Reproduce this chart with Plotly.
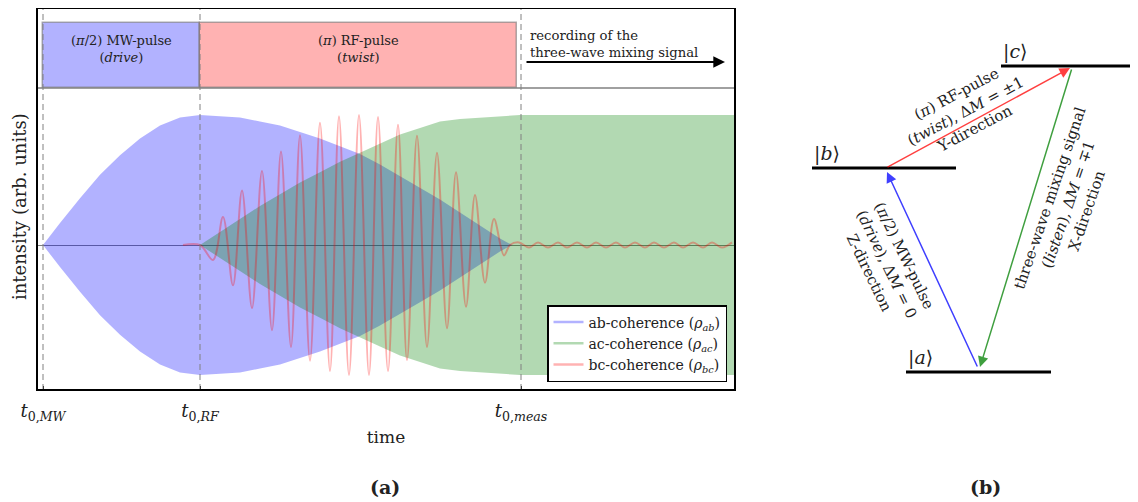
import plotly.graph_objects as go

# ---- data (time in arb. units, t0,MW = 0; intensity normalised to the max envelope) ----
t_marks = [0, 157, 478]
t_mark_labels = ["<i>t</i><sub>0,<i>MW</i></sub>", "<i>t</i><sub>0,<i>RF</i></sub>",
                 "<i>t</i><sub>0,<i>meas</i></sub>"]

pulse_labels = ["(<i>π</i>/2) MW-pulse<br>(<i>drive</i>)", "(<i>π</i>) RF-pulse<br>(<i>twist</i>)"]
pulse_start = [0, 157]
pulse_end = [157, 474]
pulse_colors = ["rgba(0,0,255,0.3)", "rgba(255,0,0,0.3)"]

# envelope of the (fast oscillating) ab-coherence
t_ab = [0, 17, 37, 57, 77, 97, 117, 137, 157, 177, 197, 217, 237, 257, 277, 297, 317,
        337, 357, 377, 397, 417, 437, 457, 469, 692]
env_ab = [0, 0.17, 0.36, 0.54, 0.69, 0.82, 0.92, 0.98, 1.0, 0.99, 0.98, 0.95, 0.92, 0.87,
          0.82, 0.76, 0.70, 0.62, 0.53, 0.44, 0.35, 0.25, 0.15, 0.05, 0, 0]

# envelope of the ac-coherence
t_ac = [0, 157, 177, 197, 217, 237, 257, 277, 297, 317, 337, 357, 377, 397, 417, 437, 457,
        477, 692]
env_ac = [0, 0, 0.10, 0.20, 0.30, 0.39, 0.48, 0.56, 0.64, 0.71, 0.78, 0.85, 0.90, 0.95,
          0.97, 0.98, 0.99, 1.0, 1.0]

# extrema of the bc-coherence
t_bc = [140, 157, 170, 180, 190, 199, 209, 219, 229, 238, 248, 257, 267, 277, 287, 296, 306,
        316, 326, 335, 345, 355, 364, 374, 384, 394, 404, 413, 423, 432, 442, 451, 461, 467,
        476, 486, 495, 505, 515, 524, 534, 544, 553, 563, 573, 582, 592, 602, 611, 621, 631,
        640, 650, 660, 669, 679, 689]
rho_bc = [0, 0, -0.115, 0.215, -0.31, 0.42, -0.485, 0.57, -0.655, 0.72, -0.785, 0.845, -0.89,
          0.94, -0.97, 0.99, -1.0, 1.0, -1.0, 0.985, -0.97, 0.925, -0.885, 0.84, -0.785, 0.71,
          -0.64, 0.56, -0.475, 0.385, -0.29, 0.2, -0.08, 0,
          0.02, -0.02, 0.02, -0.02, 0.02, -0.02, 0.02, -0.02, 0.02, -0.02, 0.02, -0.02, 0.02,
          -0.02, 0.02, -0.02, 0.02, -0.02, 0.02, -0.02, 0.02, -0.02, 0.02]

# level scheme (panel b), arbitrary drawing units
level_names = ["|<i>a</i>⟩", "|<i>b</i>⟩", "|<i>c</i>⟩"]
level_E = [130, 334, 436]
level_x0 = [126, 32, 221]
level_x1 = [271, 176, 356]

arrow_tail = [(198, 134), (106, 334), (292, 434)]
arrow_head = [(107, 330), (290, 434), (200, 135)]
arrow_colors = ["rgba(0,0,255,0.75)", "rgba(255,0,0,0.75)", "rgba(0,128,0,0.75)"]
arrow_texts = ["(<i>π</i>/2) MW-pulse<br>(<i>drive</i>), Δ<i>M</i> = 0<br>Z-direction",
               "(<i>π</i>) RF-pulse<br>(<i>twist</i>), Δ<i>M</i> = ±1<br>Y-direction",
               "three-wave mixing signal<br>(<i>listen</i>), Δ<i>M</i> = ∓1<br>X-direction"]
arrow_text_pos = [(107, 238), (185, 391), (288, 298)]
arrow_text_angle = [64, -28, -71]

FONT = "DejaVu Serif"
OFF = 8                      # page margin of the html body
W, H = 1138 - OFF, 502 - OFF
def px(x): return (x - OFF) / W
def py(y): return 1 - (y - OFF) / H

fig = go.Figure()

# coherences
fig.add_trace(go.Scatter(x=t_ab + t_ab[::-1], y=env_ab + [-v for v in env_ab[::-1]],
                         fill="toself", fillcolor="rgba(0,0,255,0.3)", line=dict(width=0),
                         mode="lines", showlegend=False, hoverinfo="skip"))
fig.add_trace(go.Scatter(x=t_ac + t_ac[::-1], y=env_ac + [-v for v in env_ac[::-1]],
                         fill="toself", fillcolor="rgba(0,128,0,0.3)", line=dict(width=0),
                         mode="lines", showlegend=False, hoverinfo="skip"))
fig.add_trace(go.Scatter(x=t_bc, y=rho_bc, mode="lines", line_shape="spline",
                         line=dict(color="rgba(255,0,0,0.3)", width=2, smoothing=1),
                         showlegend=False))

legend_names = ["ab-coherence (<i>ρ</i><sub><i>ab</i></sub>)",
                "ac-coherence (<i>ρ</i><sub><i>ac</i></sub>)",
                "bc-coherence (<i>ρ</i><sub><i>bc</i></sub>)"]
for name, col in zip(legend_names, ["rgba(0,0,255,0.3)", "rgba(0,128,0,0.3)", "rgba(255,0,0,0.3)"]):
    fig.add_trace(go.Scatter(x=[None], y=[None], mode="lines", name=name,
                             line=dict(color=col, width=2.5), legendgroup=name))

# pulse sequence strip
for lab, s, e, c in zip(pulse_labels, pulse_start, pulse_end, pulse_colors):
    fig.add_trace(go.Bar(x=[(s + e) / 2], y=[0.8125], base=0, width=[e - s], yaxis="y2",
                         marker=dict(color=c, line=dict(color="rgba(120,120,120,0.6)", width=1.5)),
                         showlegend=False, hoverinfo="skip"))
    fig.add_annotation(x=(s + e) / 2, y=0.49, xref="x", yref="y2", text=lab, showarrow=False,
                       xanchor="center", yanchor="middle",
                       font=dict(family=FONT, size=13, color="#222"))

fig.add_annotation(x=485, y=0.55, xref="x", yref="y2", xanchor="left", yanchor="middle",
                   align="left", text="recording of the<br>three-wave mixing signal",
                   showarrow=False, font=dict(family=FONT, size=13.2, color="#222"))
fig.add_annotation(x=682, y=0.325, ax=482, ay=0.325, xref="x", yref="y2", axref="x", ayref="y2",
                   text="", showarrow=True, arrowhead=2, arrowsize=1.3, arrowwidth=1.8,
                   arrowcolor="black")

for t in t_marks:
    fig.add_shape(type="line", x0=t, x1=t, xref="x", yref="paper", y0=py(390), y1=py(8),
                  line=dict(color="gray", width=1, dash="6px,4px"))

# frame + divider
fig.add_shape(type="line", xref="paper", yref="paper", x0=px(37), x1=px(735), y0=py(88), y1=py(88),
              line=dict(color="gray", width=1.5))
fig.add_shape(type="rect", xref="paper", yref="paper", x0=px(37), x1=px(735), y0=py(390), y1=py(8),
              line=dict(color="black", width=2))

# level scheme
for name, E, x0, x1 in zip(level_names, level_E, level_x0, level_x1):
    fig.add_trace(go.Scatter(x=[x0, x1], y=[E, E], xaxis="x3", yaxis="y3", mode="lines",
                             line=dict(color="black", width=3), showlegend=False, hoverinfo="skip"))
    fig.add_annotation(x=x0, y=E + 15, xref="x3", yref="y3", text=name, xanchor="left",
                       yanchor="middle", showarrow=False,
                       font=dict(family=FONT, size=19, color="#222"))

for (tx, ty), (hx, hy), col, txt, (cx, cy), ang in zip(arrow_tail, arrow_head, arrow_colors,
                                                       arrow_texts, arrow_text_pos, arrow_text_angle):
    fig.add_annotation(x=hx, y=hy, ax=tx, ay=ty, xref="x3", yref="y3", axref="x3", ayref="y3",
                       text="", showarrow=True, arrowhead=2, arrowsize=1.4, arrowwidth=1.5,
                       arrowcolor=col)
    fig.add_annotation(x=cx, y=cy, xref="x3", yref="y3", text=txt, textangle=ang,
                       xanchor="center", yanchor="middle", showarrow=False,
                       font=dict(family=FONT, size=15, color="#222"))

# labels
fig.add_annotation(x=px(19), y=py(207), xref="paper", yref="paper", text="intensity (arb. units)",
                   textangle=-90, xanchor="center", yanchor="middle", showarrow=False,
                   font=dict(family=FONT, size=18, color="#222"))
fig.add_annotation(x=px(385), y=py(487), xref="paper", yref="paper", text="<b>(a)</b>",
                   xanchor="center", yanchor="middle", showarrow=False,
                   font=dict(family=FONT, size=19, color="#222"))
fig.add_annotation(x=px(985), y=py(487), xref="paper", yref="paper", text="<b>(b)</b>",
                   xanchor="center", yanchor="middle", showarrow=False,
                   font=dict(family=FONT, size=19, color="#222"))

fig.update_layout(
    width=W, height=H, autosize=False, margin=dict(l=0, r=0, t=0, b=0, autoexpand=False),
    paper_bgcolor="white", plot_bgcolor="white", bargap=0,
    font=dict(family=FONT, color="#222"),
    xaxis=dict(domain=[px(37), px(735)], range=[-6, 692], tickvals=t_marks, ticktext=t_mark_labels,
               ticks="inside", ticklen=4, tickcolor="black", tickfont=dict(size=18),
               ticklabelstandoff=8,
               showgrid=False, zeroline=False, showline=False, anchor="y", automargin=False,
               title=dict(text="time", font=dict(size=17), standoff=8)),
    yaxis=dict(domain=[py(390), py(88)], range=[-1.1154, 1.2077], showticklabels=False,
               ticks="", showgrid=False, zeroline=True, zerolinecolor="gray", zerolinewidth=1,
               automargin=False),
    yaxis2=dict(domain=[py(88), py(8)], range=[0, 1], visible=False, anchor="x", automargin=False),
    xaxis3=dict(domain=[px(780), 1], range=[0, 358], visible=False, anchor="y3", automargin=False),
    yaxis3=dict(domain=[0, 1], range=[0, 494], visible=False, anchor="x3", automargin=False),
    legend=dict(x=px(727), y=py(382), xanchor="right", yanchor="bottom", bgcolor="white",
                bordercolor="black", borderwidth=1.5, font=dict(family=FONT, size=14),
                tracegroupgap=0),
)

fig.write_html("out.html")
